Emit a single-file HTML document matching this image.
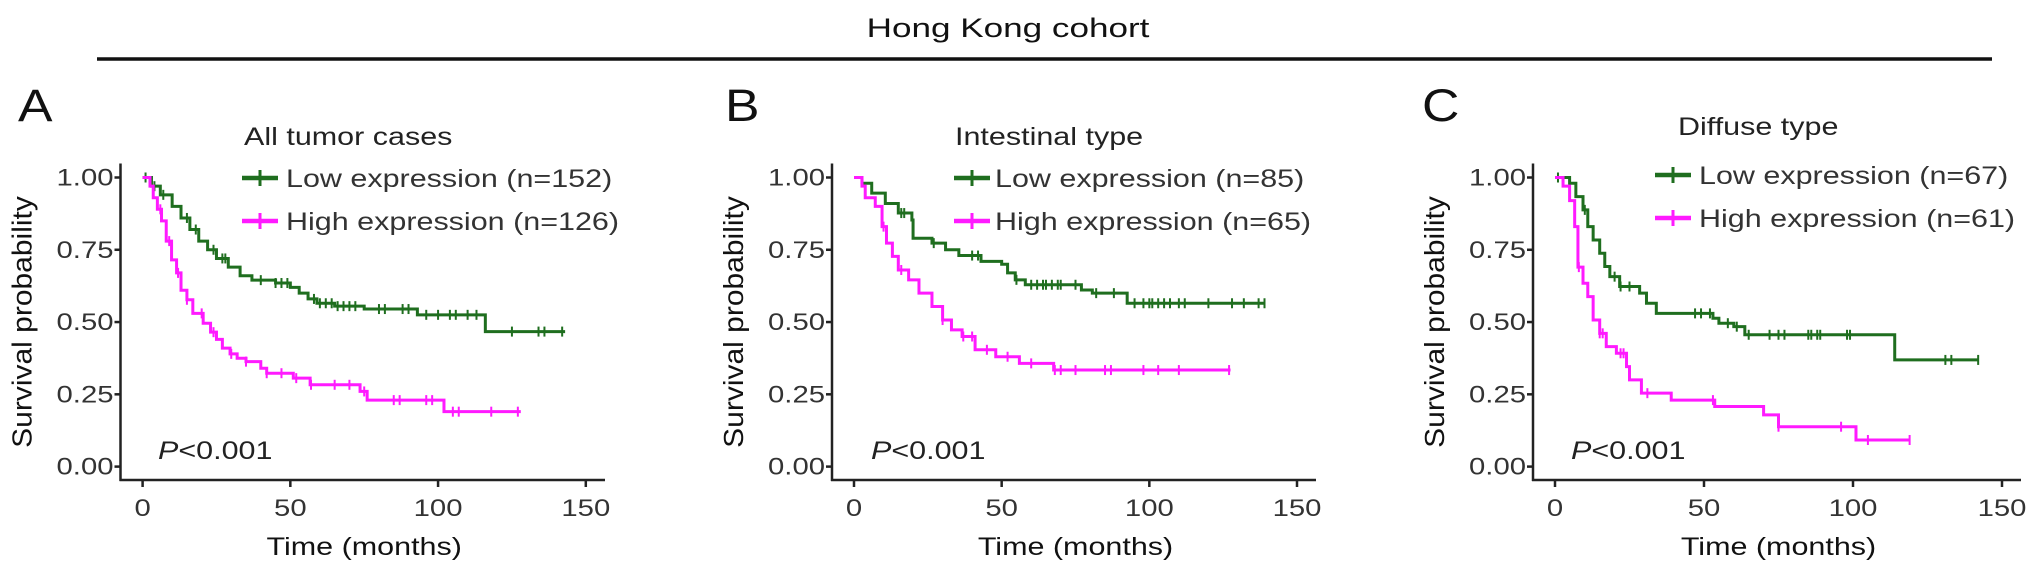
<!DOCTYPE html>
<html><head><meta charset="utf-8"><style>
body{margin:0;background:#fff;}
svg{display:block;font-family:"Liberation Sans",Arial,sans-serif;}
</style></head><body>
<svg id="fig" width="2032" height="574" viewBox="0 0 2032 574">
<text transform="translate(1008,37) scale(1.3,1)" font-size="27" text-anchor="middle" fill="#111">Hong Kong cohort</text>
<line x1="97" y1="59" x2="1992" y2="59" stroke="#111" stroke-width="3.5"/>
</svg>
<script>
// ---- Panel A data ----
const aLowT=[0,3,6,10,13,16,19,22,25,29,33,37,45,50,53,56,59,65,75,93,116];
const aLowS=[1,0.97,0.94,0.90,0.86,0.82,0.78,0.75,0.72,0.69,0.66,0.645,0.635,0.62,0.60,0.58,0.565,0.555,0.545,0.525,0.467];
const aLowEnd=143;
const aLowCens=[1,4,7,15,18,24,27,28,40,45,47,49,58,60,62,64,66,68,70,72,80,82,88,90,96,100,104,106,110,113,125,134,136,142];
const aHighT=[0,2.5,3.6,5,6.4,8,9.8,11.5,13,15,17,20.5,23,25,27,29.6,32,35,40,42,51,56.7,73.6,76,102];
const aHighS=[1,0.97,0.93,0.89,0.85,0.78,0.715,0.67,0.61,0.577,0.53,0.496,0.465,0.44,0.41,0.39,0.375,0.363,0.34,0.323,0.306,0.283,0.26,0.23,0.19];
const aHighEnd=128;
const aHighCens=[6,9,12,15,20,24,30,35,42,47,52,57,65,70,75,85,87,96,98,105,107,118,127];
// ---- Panel B data ----
const bLowT=[0,2.7,6,10.6,15,19.6,20,26.4,31,35.5,43,50,52,54.6,58,77,80.7,92.5];
const bLowS=[1,0.98,0.946,0.91,0.877,0.853,0.79,0.773,0.75,0.73,0.71,0.70,0.67,0.646,0.629,0.611,0.60,0.565];
const bLowEnd=139;
const bLowCens=[16,17,27,40,42,55,60,62,64,65,67,69,70,75,82,88,95,98,100,101,103,105,107,110,112,120,128,132,137,139];
const bHighT=[0,2.7,3.8,7.2,9.5,11,13,15,18.5,22,26.4,30,33,36.6,41,48,56,67.6];
const bHighS=[1,0.97,0.93,0.90,0.83,0.773,0.727,0.68,0.646,0.60,0.554,0.507,0.473,0.45,0.404,0.38,0.357,0.334];
const bHighEnd=127.5;
const bHighCens=[10,16,30,37,40,45,52,60,68,70,75,85,87,98,103,110,127];
// ---- Panel C data ----
const cLowT=[0,4.9,7,9.4,11,12.8,15,16.7,18.4,21.7,28.4,30.7,34,53,55,60,63.7,114];
const cLowS=[1,0.98,0.934,0.888,0.83,0.784,0.738,0.692,0.657,0.623,0.60,0.565,0.53,0.513,0.496,0.484,0.456,0.369];
const cLowEnd=142;
const cLowCens=[1,5,10,20,22,25,47,49,52,58,61,65,72,75,77,85,86,88,89,98,99,131,133,142];
const cHighT=[0,2.7,4.9,6.6,7.7,9.4,11,12.8,15,17.2,20.6,24,25,29,39,53.6,70,75,101];
const cHighS=[1,0.97,0.92,0.83,0.69,0.634,0.588,0.507,0.461,0.415,0.392,0.346,0.30,0.254,0.23,0.208,0.179,0.138,0.092];
const cHighEnd=119;
const cHighCens=[8,15,16,22,23,31,53,75,96,105,119];

const yTicks=[0,0.25,0.5,0.75,1];
const yTickLabels=["0.00","0.25","0.50","0.75","1.00"];
const xTicks=[0,50,100,150];
const xTickLabels=["0","50","100","150"];

const NS="http://www.w3.org/2000/svg";
const svg=document.getElementById('fig');
function mk(tag,attrs,parent){const e=document.createElementNS(NS,tag);for(const k in attrs)e.setAttribute(k,attrs[k]);(parent||svg).appendChild(e);return e;}
const SX=1.22;
function txt(parent,x,y,size,anchor,fill,sx){
  return mk('text',{transform:`translate(${x},${y}) scale(${sx},1)`,'font-size':size,'text-anchor':anchor,fill:fill},parent);
}

const GREEN="#1f6e1f", MAG="#ff1aff";
const yTop=177.5, yBot=466.6;
function yS(v){return yBot-(yBot-yTop)*v;}

const panels=[
 {letter:"A",lx:18,axisX:120.5,x0:142.6,x150:585.8,xEnd:605,title:"All tumor cases",tx:244,ty:145,keyX:242,textX:286,r1:178,r2:221,px:158,low:[aLowT,aLowS,aLowEnd,aLowCens],high:[aHighT,aHighS,aHighEnd,aHighCens],nl:"152",nh:"126",id:"a"},
 {letter:"B",lx:725,axisX:832,x0:854,x150:1297,xEnd:1316,title:"Intestinal type",tx:955,ty:145,keyX:954,textX:995,r1:178,r2:221,px:871,low:[bLowT,bLowS,bLowEnd,bLowCens],high:[bHighT,bHighS,bHighEnd,bHighCens],nl:"85",nh:"65",id:"b"},
 {letter:"C",lx:1422,axisX:1533,x0:1555,x150:2002,xEnd:2021,title:"Diffuse type",tx:1678,ty:135,keyX:1655,textX:1699,r1:175,r2:218,px:1571,low:[cLowT,cLowS,cLowEnd,cLowCens],high:[cHighT,cHighS,cHighEnd,cHighCens],nl:"67",nh:"61",id:"c"}
];

function stepPath(T,S,end,xS){
  let d="M"+xS(T[0])+","+yS(S[0]);
  for(let i=1;i<T.length;i++){d+=" H"+xS(T[i])+" V"+yS(S[i]);}
  d+=" H"+xS(end);return d;
}
function survAt(T,S,t){let v=S[0];for(let i=0;i<T.length;i++){if(T[i]<=t)v=S[i];}return v;}

panels.forEach(p=>{
  const g=mk('g',{});
  
  
  const xS=t=>p.x0+(p.x150-p.x0)*t/150;
  const L=txt(g,p.lx,121,45,'start','#111',1.15);L.textContent=p.letter;
  
  
  const ya=mk('line',{x1:p.axisX,y1:yTop-14,x2:p.axisX,y2:481,stroke:'#222','stroke-width':2.5},g);
  
  
  const xa=mk('line',{x1:p.axisX-1,y1:480,x2:p.xEnd,y2:480,stroke:'#222','stroke-width':2.5},g);
  
  
  yTicks.forEach((v,i)=>{
    mk('line',{x1:p.axisX-6,x2:p.axisX,y1:yS(v),y2:yS(v),stroke:'#222','stroke-width':2.5},g);
    const t=txt(g,p.axisX-7,yS(v)+8,24,'end','#333',SX);
    t.textContent=yTickLabels[i];
    
    
  });
  xTicks.forEach((v,i)=>{
    mk('line',{x1:xS(v),x2:xS(v),y1:480,y2:487,stroke:'#222','stroke-width':2.5},g);
    const t=txt(g,xS(v),516,24,'middle','#333',SX);
    t.textContent=xTickLabels[i];
    
    
  });
  const xt=txt(g,(p.x0+p.x150)/2,555,25,'middle','#111',SX);
  xt.textContent="Time (months)";
  
  
  const yt=mk('text',{x:0,y:0,'font-size':25,'text-anchor':'middle',fill:'#111',transform:`translate(${p.axisX-89},322) rotate(-90) scale(1.2,1.1)`},g);
  yt.textContent="Survival probability";
  
  
  [[p.low,GREEN,'low'],[p.high,MAG,'high']].forEach(([s,col,nm])=>{
    const path=mk('path',{d:stepPath(s[0],s[1],s[2],xS),fill:'none',stroke:col,'stroke-width':3},g);
    
    
    s[3].forEach(ct=>{
      const y=yS(survAt(s[0],s[1],ct));
      const m=mk('line',{x1:xS(ct),x2:xS(ct),y1:y-5,y2:y+5,stroke:col,'stroke-width':2},g);
      
      
    });
  });
  const lt=txt(g,p.tx,p.ty,25,'start','#222',SX);lt.textContent=p.title;
  
  
  [[p.r1,GREEN,"Low expression (n="+p.nl+")",'low'],[p.r2,MAG,"High expression (n="+p.nh+")",'high']].forEach(([ry,col,lab,nm])=>{
    const k=mk('line',{x1:p.keyX,x2:p.keyX+36,y1:ry,y2:ry,stroke:col,'stroke-width':4.5},g);
    
    
    mk('line',{x1:p.keyX+18,x2:p.keyX+18,y1:ry-8,y2:ry+8,stroke:col,'stroke-width':3},g);
    const t=txt(g,p.textX,ry+9,25,'start','#333',SX);t.textContent=lab;
    
    
  });
  const pv=txt(g,p.px,459,25,'start','#222',SX);
  pv.innerHTML='<tspan font-style="italic">P</tspan>&lt;0.001';
  
  
});
</script>
</body></html>
